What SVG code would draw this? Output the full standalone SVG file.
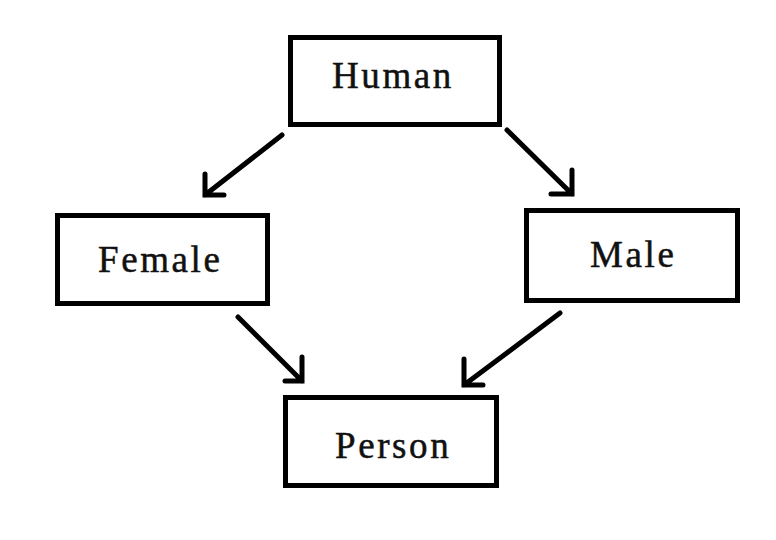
<svg xmlns="http://www.w3.org/2000/svg" width="776" height="540" viewBox="0 0 776 540">
<style>
.box{fill:#fff;stroke:#000;stroke-width:5}
.lbl{font-family:"Liberation Serif","Times New Roman",serif;font-size:37px;letter-spacing:2.6px;fill:#111;stroke:#111;stroke-width:0.5}
.arr{fill:none;stroke:#000;stroke-width:5;stroke-linecap:round;stroke-linejoin:miter}
</style>
<rect width="776" height="540" fill="#fff"/>
<g id="connectors">
<path class="arr" d="M282,135 L205,195 M205,174 L205,195 L224,195"/>
<path class="arr" d="M507,130 L572,194 M572,170 L572,194 L551,194"/>
<path class="arr" d="M238,317 L302,381 M302,357 L302,381 L285,381"/>
<path class="arr" d="M560,313 L464,385 M464,359 L464,385 L483,385"/>
</g>
<g id="human">
<rect class="box" x="290.5" y="37.5" width="209" height="87"/>
<text class="lbl" x="332" y="88">Human</text>
</g>
<g id="female">
<rect class="box" x="57.5" y="215.5" width="210" height="88"/>
<text class="lbl" x="98" y="272">Female</text>
</g>
<g id="male">
<rect class="box" x="526.5" y="210.5" width="211" height="90"/>
<text class="lbl" x="590" y="267">Male</text>
</g>
<g id="person">
<rect class="box" x="285.5" y="397.5" width="211" height="88"/>
<text class="lbl" x="335" y="458">Person</text>
</g>
</svg>
